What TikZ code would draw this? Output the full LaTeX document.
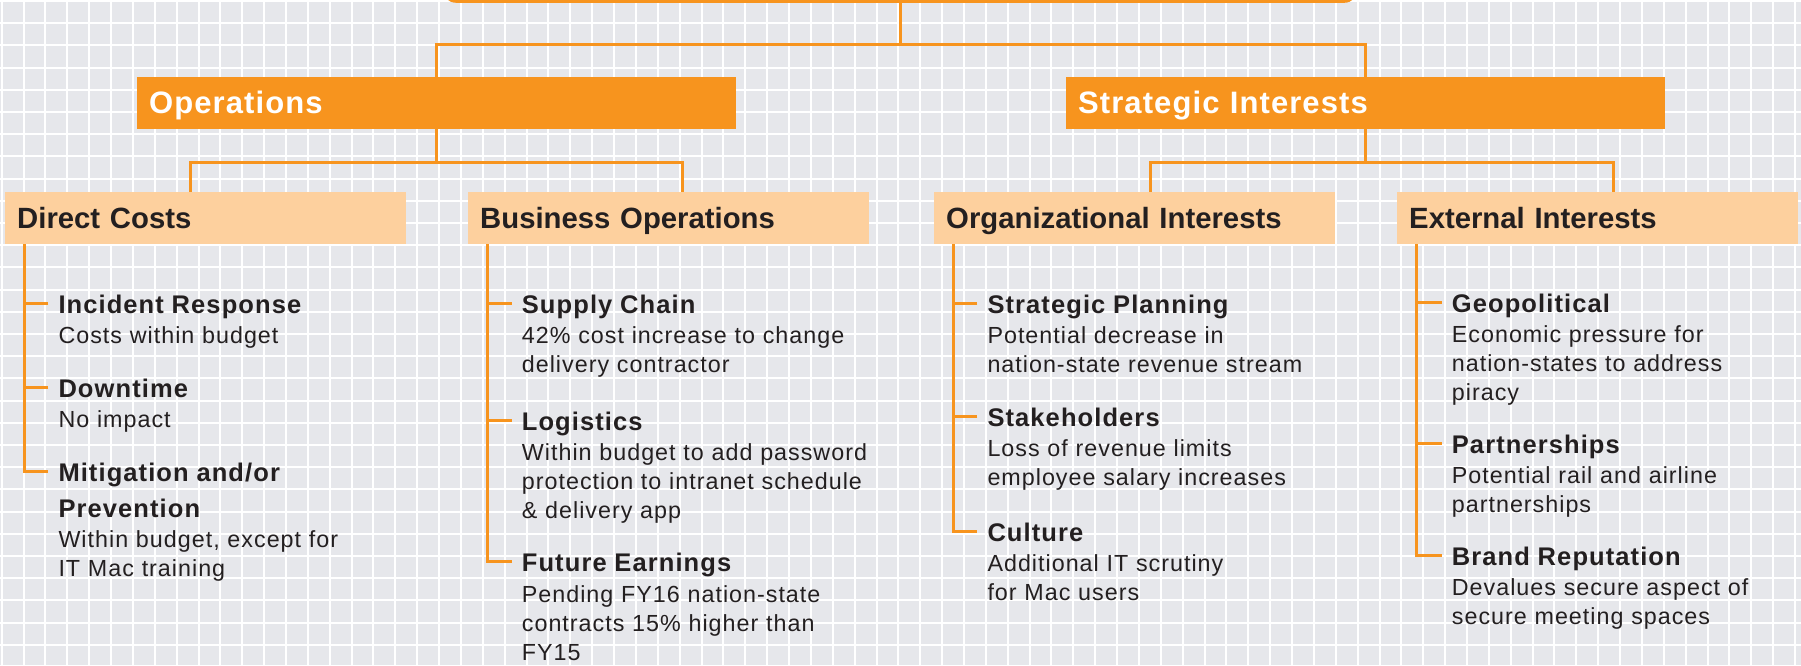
\documentclass[tikz,border=0pt]{standalone}
\usepackage{fontspec}
\setmainfont{Liberation Sans}
\newfontfamily\bodyfont[LetterSpace=4.3]{Liberation Sans}
\newfontfamily\headfont[LetterSpace=3.5]{Liberation Sans}
\definecolor{gridbg}{RGB}{230,231,235}
\definecolor{orng}{RGB}{247,148,30}
\definecolor{peach}{RGB}{253,208,158}
\definecolor{ink}{RGB}{35,31,32}
\newcommand\hd{\bfseries\fontsize{25.5}{29.3}\selectfont}
\tikzset{
  link/.style={draw=orng, line width=3pt},
  boxhead/.style={anchor=north west, inner xsep=12pt, minimum height=52pt, align=left,
    text height=21pt, text depth=0pt, font=\bfseries\fontsize{29.3}{32}\selectfont},
  mainbox/.style={boxhead, fill=orng, text=white, text width=575pt,
    font=\headfont\bfseries\fontsize{31}{34}\selectfont},
  subbox/.style={boxhead, fill=peach, text=ink, text width=377pt},
  item/.style={anchor=base west, align=left, inner sep=0pt, text=ink, text width=380pt,
    font=\bodyfont\fontsize{23.3}{29.3}\selectfont},
}
\begin{document}
\begin{tikzpicture}[x=1pt,y=-1pt]
  \useasboundingbox (0,0) rectangle (1801,665);
  \clip (0,0) rectangle (1801,665);
  \fill[gridbg] (0,0) rectangle (1801,665);
  \foreach \i in {0,...,82}
    \draw[white, line width=2pt] ({1.7+21.87*\i},0) -- ++(0,665);
  \foreach \j in {0,...,30}
    \draw[white, line width=2pt] (0,{1+22.2*\j}) -- ++(1801,0);

  \node[fill=orng, rounded corners=14pt, anchor=south west, minimum width=916pt,
    minimum height=60pt] (top) at (442,3) {};
  \node[mainbox] (ops) at (137,77) {Operations};
  \node[mainbox] (strat) at (1066,77) {Strategic Interests};
  \node[subbox] (dc) at (5,192) {Direct Costs};
  \node[subbox] (bo) at (468,192) {Business Operations};
  \node[subbox] (oi) at (934,192) {Organizational Interests};
  \node[subbox] (ei) at (1397,192) {External Interests};

  \draw[link] (top.south) -- ++(0,41) coordinate (topfork);
  \draw[link] (ops.north) |- (topfork) -| (strat.north);
  \draw[link] (ops.south) -- ++(0,33) coordinate (opsfork);
  \draw[link] ([xshift=-15pt]dc.north) |- (opsfork) -| ([xshift=14pt]bo.north);
  \draw[link] (strat.south) -- ++(0,33) coordinate (stratfork);
  \draw[link] ([xshift=16pt]oi.north) |- (stratfork) -| ([xshift=16pt]ei.north);

  \node[item] (ir) at (58.3,313.3) {{\hd Incident Response}\\[1pt] Costs within budget};
  \node[item] (dt) at (58.3,397.3) {{\hd Downtime}\\[1pt] No impact};
  \node[item] (mp) at (58.3,481.7) {{\hd Mitigation and/or}\\[6.3pt] {\hd Prevention}\\[1pt]
    Within budget, except for\\ IT Mac training};

  \node[item] (sc) at (521.7,313.3) {{\hd Supply Chain}\\[1pt] 42\% cost increase to change\\
    delivery contractor};
  \node[item] (lg) at (521.7,430) {{\hd Logistics}\\[1pt] Within budget to add password\\
    protection to intranet schedule\\ \& delivery app};
  \node[item] (fe) at (521.7,571.7) {{\hd Future Earnings}\\[1pt] Pending FY16 nation-state\\
    contracts 15\% higher than\\ FY15};

  \node[item] (sp) at (987.3,313.3) {{\hd Strategic Planning}\\[1pt] Potential decrease in\\
    nation-state revenue stream};
  \node[item] (sh) at (987.3,426) {{\hd Stakeholders}\\[1pt] Loss of revenue limits\\
    employee salary increases};
  \node[item] (cu) at (987.3,541) {{\hd Culture}\\[1pt] Additional IT scrutiny\\ for Mac users};

  \node[item] (gp) at (1451.7,312) {{\hd Geopolitical}\\[1pt] Economic pressure for\\
    nation-states to address\\ piracy};
  \node[item] (ps) at (1451.7,453.3) {{\hd Partnerships}\\[1pt] Potential rail and airline\\
    partnerships};
  \node[item] (br) at (1451.7,565) {{\hd Brand Reputation}\\[1pt] Devalues secure aspect of\\
    secure meeting spaces};

  \draw[link] ([xshift=19pt]dc.south west) |- ([xshift=-10pt,yshift=10pt]mp.base west);
  \draw[link] ([xshift=-10pt,yshift=10pt]ir.base west) -- ++(-24.5,0);
  \draw[link] ([xshift=-10pt,yshift=10pt]dt.base west) -- ++(-24.5,0);
  \draw[link] ([xshift=19pt]bo.south west) |- ([xshift=-10pt,yshift=10pt]fe.base west);
  \draw[link] ([xshift=-10pt,yshift=10pt]sc.base west) -- ++(-24.5,0);
  \draw[link] ([xshift=-10pt,yshift=10pt]lg.base west) -- ++(-24.5,0);
  \draw[link] ([xshift=19pt]oi.south west) |- ([xshift=-10pt,yshift=10pt]cu.base west);
  \draw[link] ([xshift=-10pt,yshift=10pt]sp.base west) -- ++(-24.5,0);
  \draw[link] ([xshift=-10pt,yshift=10pt]sh.base west) -- ++(-24.5,0);
  \draw[link] ([xshift=19pt]ei.south west) |- ([xshift=-10pt,yshift=10pt]br.base west);
  \draw[link] ([xshift=-10pt,yshift=10pt]gp.base west) -- ++(-24.5,0);
  \draw[link] ([xshift=-10pt,yshift=10pt]ps.base west) -- ++(-24.5,0);
\end{tikzpicture}
\end{document}
